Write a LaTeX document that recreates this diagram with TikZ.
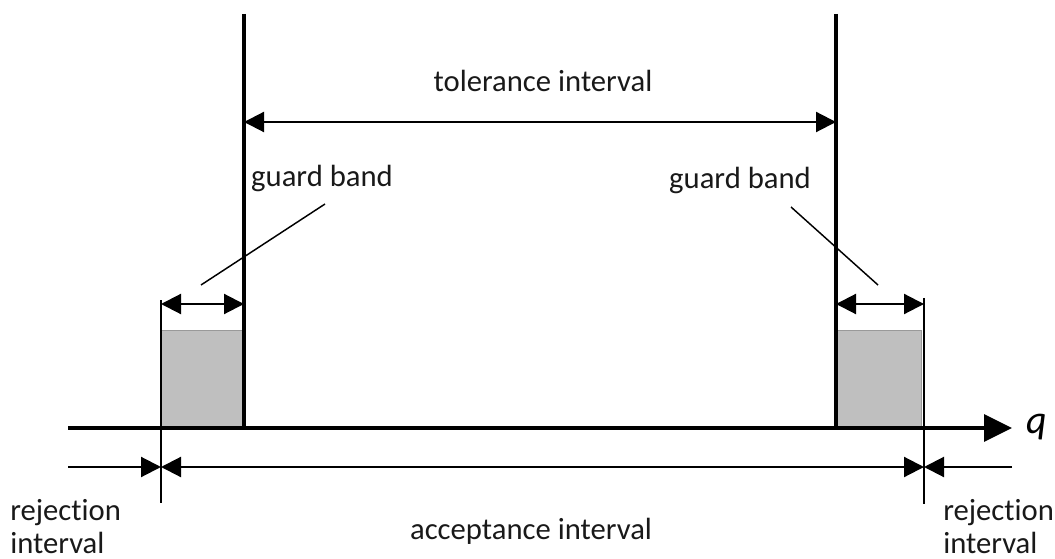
\documentclass[tikz,border=0pt]{standalone}
\usepackage{fontspec}
\setmainfont{Carlito}[Ligatures=NoCommon]
\usetikzlibrary{arrows.meta}
\definecolor{bandgray}{RGB}{191,191,191}
\begin{document}
\begin{tikzpicture}[x=0.75pt,y=-0.75pt,
  lbl/.style={font=\fontsize{23}{27}\selectfont, inner sep=0pt, text=black!90},
  tallline/.style={line width=2.3pt},
  thinline/.style={line width=1.1pt},
  dimline/.style={line width=1.6pt},
  tipA/.style={{Triangle[length=15pt,width=15pt]}-{Triangle[length=15pt,width=15pt]}},
  tipR/.style={-{Triangle[length=15pt,width=15pt]}},
  band/.style={fill=bandgray, draw=black!40, line width=0.5pt}
]
\useasboundingbox (0,0) rectangle (1055,559);

% key coordinates
\coordinate (gl) at (161,330);
\coordinate (gr) at (244,428);
\coordinate (hl) at (836,330);
\coordinate (hr) at (921,428);
\coordinate (axL) at (68,428);
\coordinate (axR) at (1012,428);
\coordinate (tlTop) at (244,14);
\coordinate (tlBot) at (244,428);
\coordinate (trTop) at (836,14);
\coordinate (trBot) at (836,428);
\coordinate (alTop) at (161,300);
\coordinate (alBot) at (161,503);
\coordinate (arTop) at (924,298);
\coordinate (arBot) at (924,504);
\coordinate (tolL) at (244,122);
\coordinate (tolR) at (836,122);
\coordinate (gbLa) at (161,304);
\coordinate (gbLb) at (244,304);
\coordinate (gbRa) at (836,304);
\coordinate (gbRb) at (924,304);
\coordinate (bL0) at (68,467);
\coordinate (bL1) at (161,467);
\coordinate (bR1) at (924,467);
\coordinate (bR0) at (1012,467);
\coordinate (ldLa) at (201,285);
\coordinate (ldLb) at (325,204);
\coordinate (ldRa) at (791,207);
\coordinate (ldRb) at (878,285);

% guard band boxes
\path[band] (gl) rectangle (gr);
\path[band] (hl) rectangle (hr);

% axis
\draw[line width=3pt, -{Triangle[length=21pt,width=20pt]}] (axL) -- (axR);

% tolerance limits
\draw[tallline] (tlTop) -- (tlBot);
\draw[tallline] (trTop) -- (trBot);

% acceptance limits
\draw[thinline] (alTop) -- (alBot);
\draw[thinline] (arTop) -- (arBot);

% dimension arrows
\draw[dimline, tipA] (tolL) -- (tolR);
\draw[dimline, tipA] (gbLa) -- (gbLb);
\draw[dimline, tipA] (gbRa) -- (gbRb);
\draw[dimline, tipR] (bL0) -- (bL1);
\draw[dimline, tipA] (bL1) -- (bR1);
\draw[dimline, tipR] (bR0) -- (bR1);

% leaders
\draw[thinline] (ldLa) -- (ldLb);
\draw[thinline] (ldRa) -- (ldRb);

% labels
\node[lbl, anchor=base] (tol) at (543,92) {tolerance interval};
\node[lbl, anchor=base] (gbl) at (322,187) {guard band};
\node[lbl, anchor=base] (gbr) at (740,189) {guard band};
\node[lbl, anchor=base] (acc) at (531,539) {acceptance interval};
\node[lbl, anchor=base west] (rl1) at (10,520) {rejection};
\node[lbl, anchor=base west] (rl2) at (10,553) {interval};
\node[lbl, anchor=base west] (rr1) at (943,520) {rejection};
\node[lbl, anchor=base west] (rr2) at (943,553) {interval};
\node[font=\fontsize{30}{34}\selectfont\itshape, inner sep=0pt, anchor=base west] (q) at (1026,433) {q};
\end{tikzpicture}
\end{document}
